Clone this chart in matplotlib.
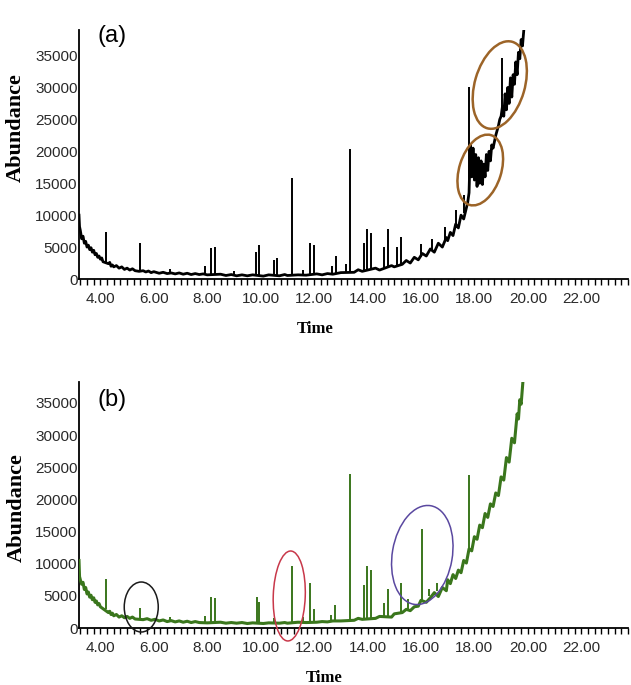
import matplotlib
matplotlib.use("Agg")
import matplotlib.pyplot as plt
import matplotlib.transforms as mtransforms
from matplotlib.patches import Ellipse
from matplotlib.ticker import MultipleLocator, FuncFormatter

plt.rcParams['font.family'] = ['Liberation Sans', 'DejaVu Sans']

# ---------- chromatogram (a): baseline trace ----------
a_time = [3.2, 3.22, 3.25, 3.3, 3.35, 3.4, 3.45, 3.5, 3.55, 3.6, 3.65, 3.7,
          3.75, 3.8, 3.85, 3.9, 3.95, 4.0, 4.05, 4.1, 4.3, 4.35, 4.4, 4.45, 4.5,
          4.6, 4.7, 4.8, 4.9, 5.0, 5.1, 5.2, 5.3, 5.45, 5.6, 5.7, 5.8, 5.9, 6.0,
          6.2, 6.35, 6.5, 6.65, 6.8, 6.95, 7.1, 7.25, 7.4, 7.55, 7.7, 7.85, 8.0,
          8.5, 8.7, 8.9, 9.1, 9.3, 9.5, 9.7, 10.1, 10.3, 10.7, 10.9, 11.0, 11.4,
          11.7, 12.1, 12.3, 12.5, 12.7, 13.0, 13.5, 13.65, 13.8, 14.3, 14.45, 14.9,
          15.0, 15.3, 15.45, 15.6, 15.75, 15.9, 16.05, 16.2, 16.35, 16.5, 16.65,
          16.8, 16.95, 17.0, 17.1, 17.2, 17.3, 17.4, 17.5, 17.6, 17.75, 17.8,
          17.85, 17.9, 17.95, 18.0, 18.05, 18.1, 18.15, 18.2, 18.25, 18.3, 18.35,
          18.4, 18.45, 18.5, 18.55, 18.6, 18.65, 18.7, 18.8, 18.9, 18.95, 19.0,
          19.05, 19.1, 19.15, 19.2, 19.25, 19.3, 19.35, 19.4, 19.45, 19.5, 19.55,
          19.6, 19.65, 19.7, 19.75, 19.8, 19.85]
a_abund = [10000, 8200, 7600, 6300, 6700, 5600, 5900, 5000, 5300, 4600, 4900,
           4200, 4500, 3800, 4000, 3400, 3600, 3100, 3300, 2700, 2400, 2600, 2000,
           2200, 1900, 2100, 1700, 1900, 1500, 1700, 1400, 1600, 1300, 1200, 1300,
           1100, 1250, 1000, 1150, 900, 1050, 850, 950, 800, 950, 750, 900, 700,
           850, 700, 800, 650, 750, 550, 700, 500, 650, 500, 650, 450, 650, 500,
           700, 550, 650, 600, 800, 650, 850, 750, 1000, 1050, 1450, 1200, 1700,
           1400, 2100, 1900, 2300, 2900, 2500, 3400, 3000, 4000, 3600, 4700, 4200,
           5600, 5000, 6500, 6000, 7300, 6800, 8600, 8000, 10000, 9400, 12000,
           13500, 21000, 16000, 20500, 15500, 19500, 14500, 19000, 15000, 18500,
           14800, 18000, 16000, 19500, 17000, 20000, 18500, 21000, 20500, 22500,
           24000, 25000, 25500, 27000, 25500, 29000, 26500, 30000, 27500, 31500,
           28500, 32000, 30500, 34000, 32000, 35500, 34500, 37500, 36500, 39000]

# peaks (a): retention time, foot, apex
a_peak_t = [4.2, 5.5, 6.6, 7.9, 8.15, 8.3, 9.0, 9.82, 9.93, 10.5, 10.6, 11.18,
            11.6, 11.85, 12.0, 12.67, 12.82, 13.2, 13.35, 13.87, 13.98, 14.13,
            14.62, 14.77, 15.1, 15.25, 16.0, 16.4, 16.9, 17.3, 17.6, 17.8, 19.03]
a_peak_lo = [2500, 1250, 850, 700, 650, 650, 550, 500, 500, 500, 500, 550,
             600, 650, 700, 850, 850, 950, 1000, 1300, 1350, 1450,
             1800, 1900, 2200, 2400, 3500, 4400, 5800, 8000, 10300, 13000, 25500]
a_peak_hi = [7300, 5600, 1600, 2000, 4800, 5000, 1300, 4300, 5300, 3000, 3300,
             15800, 1400, 5600, 5300, 2000, 3600, 2400, 20400, 5600, 7800, 7200,
             5000, 7800, 5000, 6600, 5500, 6200, 8200, 10800, 13200, 30100, 34600]

# ---------- chromatogram (b): baseline trace ----------
b_time = [3.2, 3.22, 3.25, 3.3, 3.35, 3.4, 3.45, 3.5, 3.55, 3.6, 3.65, 3.7,
          3.75, 3.8, 3.85, 3.9, 3.95, 4.0, 4.1, 4.3, 4.35, 4.4, 4.45, 4.5, 4.6,
          4.7, 4.8, 4.9, 5.0, 5.1, 5.2, 5.3, 5.6, 5.75, 5.9, 6.05, 6.2, 6.35, 6.5,
          6.65, 6.8, 6.95, 7.1, 7.25, 7.4, 7.55, 7.7, 8.0, 8.5, 8.7, 8.9, 9.1,
          9.3, 9.5, 9.7, 10.1, 10.3, 10.7, 10.9, 11.0, 11.4, 11.7, 12.1, 12.3,
          12.5, 12.7, 13.0, 13.5, 13.65, 13.8, 14.3, 14.45, 14.9, 15.0, 15.3,
          15.45, 15.6, 15.75, 15.9, 16.0, 16.2, 16.35, 16.5, 16.65, 16.8, 16.95,
          17.0, 17.1, 17.2, 17.3, 17.4, 17.5, 17.6, 17.7, 17.8, 17.9, 18.0, 18.1,
          18.2, 18.3, 18.4, 18.5, 18.6, 18.7, 18.8, 18.9, 19.0, 19.1, 19.2, 19.3,
          19.4, 19.5, 19.6, 19.65, 19.7, 19.75, 19.82]
b_abund = [10500, 8000, 7500, 6800, 7100, 6000, 6300, 5300, 5600, 4800, 5100,
           4400, 4700, 4000, 4200, 3600, 3800, 3300, 3000, 2400, 2600, 2100,
           2300, 1900, 2100, 1700, 1900, 1600, 1800, 1500, 1700, 1400, 1300,
           1450, 1200, 1350, 1100, 1250, 1000, 1150, 950, 1100, 900, 1050, 850,
           1000, 850, 800, 900, 750, 850, 750, 850, 700, 800, 700, 800, 750, 850,
           750, 900, 850, 900, 1000, 950, 1100, 1100, 1200, 1500, 1350, 1500,
           1800, 1700, 2200, 2400, 2900, 2700, 3300, 3400, 4300, 4000, 4700, 5500,
           4900, 6300, 5800, 7500, 6900, 8300, 7700, 9000, 8600, 10500, 10100,
           12300, 12000, 14200, 13800, 16000, 15600, 17800, 17200, 19300, 18900,
           21000, 20600, 23500, 23000, 26500, 25800, 29500, 28800, 33300, 32500,
           35500, 34800, 38500]

# peaks (b): retention time, foot, apex
b_peak_t = [4.2, 5.5, 6.6, 7.9, 8.15, 8.3, 9.85, 9.95, 10.5, 11.18, 11.6, 11.85,
            12.0, 12.65, 12.8, 13.35, 13.87, 13.98, 14.13, 14.6, 14.75, 15.25,
            15.5, 16.04, 16.3, 16.6, 17.8]
b_peak_lo = [3000, 1350, 1000, 850, 800, 800, 700, 700, 700, 750, 800, 850,
             900, 1000, 1000, 1150, 1350, 1400, 1500, 1700, 1800, 2400,
             2700, 4300, 5000, 5800, 12300]
b_peak_hi = [7600, 3100, 1700, 1800, 4800, 4600, 4800, 4000, 1500, 9600, 1700,
             7000, 2900, 2000, 3600, 24000, 6700, 9600, 9000, 3900, 6100, 7000,
             4500, 15400, 6000, 7000, 23800]

y_ticks = [0, 5000, 10000, 15000, 20000, 25000, 30000, 35000]

DPI = 100
fig = plt.figure(figsize=(6.31, 6.85), dpi=DPI)
ax_a = fig.add_axes([79 / 631, 0.5927, 549 / 631, 0.3635])
ax_b = fig.add_axes([79 / 631, 0.0832, 549 / 631, 0.3591])


def style_axis(ax, ytop, label, ylab_pos, xlab_pos, tag_y):
    ax.set_xlim(3.2, 23.75)
    ax.set_ylim(0, ytop)
    for side in ('top', 'right'):
        ax.spines[side].set_visible(False)
    for side in ('left', 'bottom'):
        ax.spines[side].set_linewidth(1.3)
        ax.spines[side].set_color('black')
    ax.xaxis.set_major_locator(MultipleLocator(2))
    ax.xaxis.set_minor_locator(MultipleLocator(0.25))
    ax.xaxis.set_major_formatter(FuncFormatter(lambda v, p: f'{v:.2f}'))
    ax.set_yticks(y_ticks)
    ax.set_yticklabels([str(v) for v in y_ticks])
    ax.tick_params(axis='x', which='both', direction='out', length=4, width=1,
                   pad=5, labelsize=11, labelcolor='#2a2a2a')
    ax.tick_params(axis='y', length=0, pad=1, labelsize=11, labelcolor='#2a2a2a')
    ax.set_ylabel('Abundance', family='Liberation Serif', fontweight='bold',
                  fontsize=16)
    ax.yaxis.set_label_coords(*ylab_pos)
    ax.set_xlabel('Time', family='Liberation Serif', fontweight='bold',
                  fontsize=12)
    ax.xaxis.set_label_coords(*xlab_pos)
    ax.text(0.06, tag_y, label, transform=ax.transAxes, ha='center',
            va='center', fontsize=17, family='Liberation Sans')


def ring(ax, t, v, w, h, ang, color, lw):
    # ellipse sized in pixels, centred on a data point
    tr = fig.dpi_scale_trans + mtransforms.ScaledTranslation(t, v, ax.transData)
    ax.add_patch(Ellipse((0, 0), w / DPI, h / DPI, angle=ang, fill=False,
                         ec=color, lw=lw, transform=tr, clip_on=False,
                         zorder=5))


# (a) black trace
ax_a.plot(a_time, a_abund, color='black', lw=2.0, zorder=3)
ax_a.vlines(a_peak_t, a_peak_lo, a_peak_hi, color='black', lw=1.4, zorder=3)
style_axis(ax_a, 39000, '(a)', (-0.097, 0.61), (0.43, -0.169), 0.976)
ring(ax_a, 18.22, 17070, 73, 42, 72.6, '#9c6428', 1.8)
ring(ax_a, 18.95, 30380, 90, 50, 73.8, '#9c6428', 1.8)

# (b) green trace
green = '#3a761c'
ax_b.plot(b_time, b_abund, color=green, lw=2.2, zorder=3)
ax_b.vlines(b_peak_t, b_peak_lo, b_peak_hi, color=green, lw=1.4, zorder=3)
style_axis(ax_b, 38250, '(b)', (-0.095, 0.49), (0.446, -0.171), 0.927)
ring(ax_b, 5.53, 3265, 34, 50, 0, '#1a1a1a', 1.1)
ring(ax_b, 11.07, 4980, 32, 90, -2, '#c8384a', 1.1)
ring(ax_b, 16.05, 11350, 60, 100, -9.7, '#5a48a0', 1.1)

fig.savefig('out.png', dpi=DPI)
